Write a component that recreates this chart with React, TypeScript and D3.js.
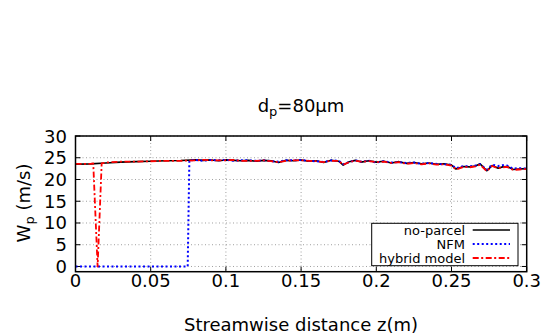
import React from 'react'
import * as d3 from 'd3'

// no-parcel (black solid)
const zNoParcel = [0, 0.01, 0.02, 0.03, 0.04, 0.05, 0.06, 0.07, 0.08, 0.085, 0.09, 0.095, 0.1, 0.105, 0.11, 0.115, 0.12, 0.125, 0.13, 0.135, 0.14, 0.145, 0.15, 0.155, 0.16, 0.165, 0.17, 0.175, 0.178, 0.182, 0.186, 0.19, 0.195, 0.2, 0.205, 0.21, 0.215, 0.22, 0.225, 0.23, 0.235, 0.24, 0.245, 0.25, 0.253, 0.258, 0.262, 0.266, 0.269, 0.2735, 0.277, 0.281, 0.284, 0.287, 0.291, 0.295, 0.3]
const wNoParcel = [23.5, 23.6, 23.8, 24.0, 24.1, 24.2, 24.3, 24.35, 24.5, 24.4, 24.5, 24.3, 24.5, 24.4, 24.3, 24.4, 24.2, 24.4, 24.3, 23.9, 24.4, 24.3, 24.5, 24.2, 24.3, 23.9, 24.4, 24.2, 23.3, 24.1, 24.4, 24.0, 24.3, 24.0, 24.2, 23.8, 24.1, 23.7, 23.9, 23.6, 23.8, 23.5, 23.6, 23.3, 22.4, 23.0, 22.9, 23.1, 23.6, 22.0, 23.2, 22.6, 22.9, 23.0, 22.3, 22.4, 22.5]

// NFM (blue dotted)
const zNFM = [0, 0.0746, 0.0757, 0.08, 0.085, 0.09, 0.095, 0.1, 0.105, 0.11, 0.115, 0.12, 0.125, 0.13, 0.135, 0.14, 0.145, 0.15, 0.155, 0.16, 0.165, 0.17, 0.175, 0.178, 0.182, 0.186, 0.19, 0.195, 0.2, 0.205, 0.21, 0.215, 0.22, 0.225, 0.23, 0.235, 0.24, 0.245, 0.25, 0.253, 0.258, 0.262, 0.266, 0.269, 0.2735, 0.277, 0.281, 0.284, 0.287, 0.291, 0.295, 0.3]
const wNFM = [0, 0, 24.4, 24.5, 24.3, 24.5, 24.4, 24.5, 24.3, 24.4, 24.4, 24.3, 24.4, 24.2, 24.1, 24.4, 24.4, 24.5, 24.3, 24.2, 24.0, 24.4, 24.3, 23.5, 24.0, 24.4, 24.1, 24.3, 23.9, 24.2, 23.9, 24.0, 23.8, 23.9, 23.6, 23.8, 23.6, 23.5, 23.4, 22.6, 23.1, 23.0, 23.2, 23.5, 22.3, 23.4, 23.1, 23.3, 23.2, 22.5, 22.6, 22.5]

// hybrid model (red dash-dot)
const zHybrid = [0, 0.01, 0.0118, 0.0147, 0.0174, 0.02, 0.03, 0.04, 0.05, 0.06, 0.07, 0.08, 0.085, 0.09, 0.095, 0.1, 0.105, 0.11, 0.115, 0.12, 0.125, 0.13, 0.135, 0.14, 0.145, 0.15, 0.155, 0.16, 0.165, 0.17, 0.175, 0.178, 0.182, 0.186, 0.19, 0.195, 0.2, 0.205, 0.21, 0.215, 0.22, 0.225, 0.23, 0.235, 0.24, 0.245, 0.25, 0.253, 0.258, 0.262, 0.266, 0.269, 0.2735, 0.277, 0.281, 0.284, 0.287, 0.291, 0.295, 0.3]
const wHybrid = [23.6, 23.6, 23.7, 0, 23.7, 23.9, 24.1, 24.1, 24.2, 24.3, 24.3, 24.4, 24.5, 24.4, 24.4, 24.4, 24.5, 24.3, 24.3, 24.3, 24.4, 24.2, 24.0, 24.3, 24.4, 24.4, 24.3, 24.2, 24.0, 24.3, 24.3, 23.4, 24.0, 24.3, 24.1, 24.2, 24.0, 24.1, 23.8, 24.0, 23.6, 23.8, 23.5, 23.7, 23.4, 23.5, 23.2, 22.3, 22.9, 22.8, 23.0, 23.4, 21.9, 23.1, 22.6, 22.8, 22.9, 22.2, 22.3, 22.4]

const xTicks = [0, 0.05, 0.1, 0.15, 0.2, 0.25, 0.3]
const xTickLabels = ['0', '0.05', '0.1', '0.15', '0.2', '0.25', '0.3']
const yTicks = [0, 5, 10, 15, 20, 25, 30]

const series = [
  { name: 'no-parcel', z: zNoParcel, w: wNoParcel, color: '#000000', dash: 'none', width: 1.6 },
  { name: 'NFM', z: zNFM, w: wNFM, color: '#0000ff', dash: '2,2.5', width: 2 },
  { name: 'hybrid model', z: zHybrid, w: wHybrid, color: '#ff0000', dash: '6,2.5,2,2.5', width: 1.8 },
]

export default function App() {
  const W = 544, H = 335
  const m = { left: 75.5, right: 526.7, top: 136, bottom: 271.7 }
  const x = d3.scaleLinear().domain([0, 0.3]).range([m.left, m.right])
  const y = d3.scaleLinear().domain([-1.2, 30]).range([m.bottom, m.top])
  const font = 'DejaVu Sans, sans-serif'

  const line = (z: number[], w: number[]) =>
    d3.line<number>().x((_, i) => x(z[i])).y(d => y(d))(w) || ''

  const lg = { x0: 371.7, y0: 223.3, x1: 518, y1: 265.7 }
  const rowY = [230, 244, 258]

  return (
    <svg width={W} height={H} style={{ position: 'absolute', left: 0, top: 0 }} fontFamily={font}>
      <rect x={0} y={0} width={W} height={H} fill="#fff" />
      {/* grid */}
      {xTicks.slice(1, -1).map(t => (
        <line key={'gx' + t} x1={x(t)} x2={x(t)} y1={m.top} y2={m.bottom} stroke="#a0a0a0" strokeWidth={1} strokeDasharray="1,2.5" />
      ))}
      {yTicks.map(t => (
        <line key={'gy' + t} x1={m.left} x2={m.right} y1={y(t)} y2={y(t)} stroke="#a0a0a0" strokeWidth={1} strokeDasharray="1,2.5" />
      ))}
      {/* ticks (mirrored, inward) */}
      {xTicks.map(t => (
        <g key={'tx' + t}>
          <line x1={x(t)} x2={x(t)} y1={m.bottom} y2={m.bottom - 5} stroke="#000" />
          <line x1={x(t)} x2={x(t)} y1={m.top} y2={m.top + 5} stroke="#000" />
        </g>
      ))}
      {yTicks.map(t => (
        <g key={'ty' + t}>
          <line x1={m.left} x2={m.left + 5} y1={y(t)} y2={y(t)} stroke="#000" />
          <line x1={m.right} x2={m.right - 5} y1={y(t)} y2={y(t)} stroke="#000" />
        </g>
      ))}
      {/* series */}
      {series.map(s => (
        <path key={s.name} d={line(s.z, s.w)} fill="none" stroke={s.color} strokeWidth={s.width}
          strokeDasharray={s.dash === 'none' ? undefined : s.dash} strokeLinejoin="round" />
      ))}
      {/* frame */}
      <rect x={m.left} y={m.top} width={m.right - m.left} height={m.bottom - m.top} fill="none" stroke="#000" strokeWidth={1.5} />
      {/* tick labels */}
      {xTicks.map((t, i) => (
        <text key={'lx' + t} x={x(t)} y={287} fontSize={18} textAnchor="middle">{xTickLabels[i]}</text>
      ))}
      {yTicks.map(t => (
        <text key={'ly' + t} x={67} y={y(t) + 6.5} fontSize={18} textAnchor="end">{t}</text>
      ))}
      {/* legend */}
      <rect x={lg.x0} y={lg.y0} width={lg.x1 - lg.x0} height={lg.y1 - lg.y0} fill="#fff" stroke="#000" strokeWidth={1} />
      {series.map((s, i) => (
        <g key={'lg' + s.name}>
          <text x={465} y={rowY[i] + 4.5} fontSize={13} textAnchor="end">{s.name}</text>
          <line x1={472.7} x2={510} y1={rowY[i]} y2={rowY[i]} stroke={s.color} strokeWidth={s.width}
            strokeDasharray={s.dash === 'none' ? undefined : s.dash} />
        </g>
      ))}
      {/* titles */}
      <text x={301} y={112} fontSize={18} textAnchor="middle">
        d<tspan fontSize={13} dy={4}>p</tspan><tspan dy={-4}>=80μm</tspan>
      </text>
      <text x={301} y={331} fontSize={18} textAnchor="middle">Streamwise distance z(m)</text>
      <text transform="translate(30,203) rotate(-90)" fontSize={18} textAnchor="middle">
        W<tspan fontSize={13} dy={4}>p</tspan><tspan dy={-4}> (m/s)</tspan>
      </text>
    </svg>
  )
}
